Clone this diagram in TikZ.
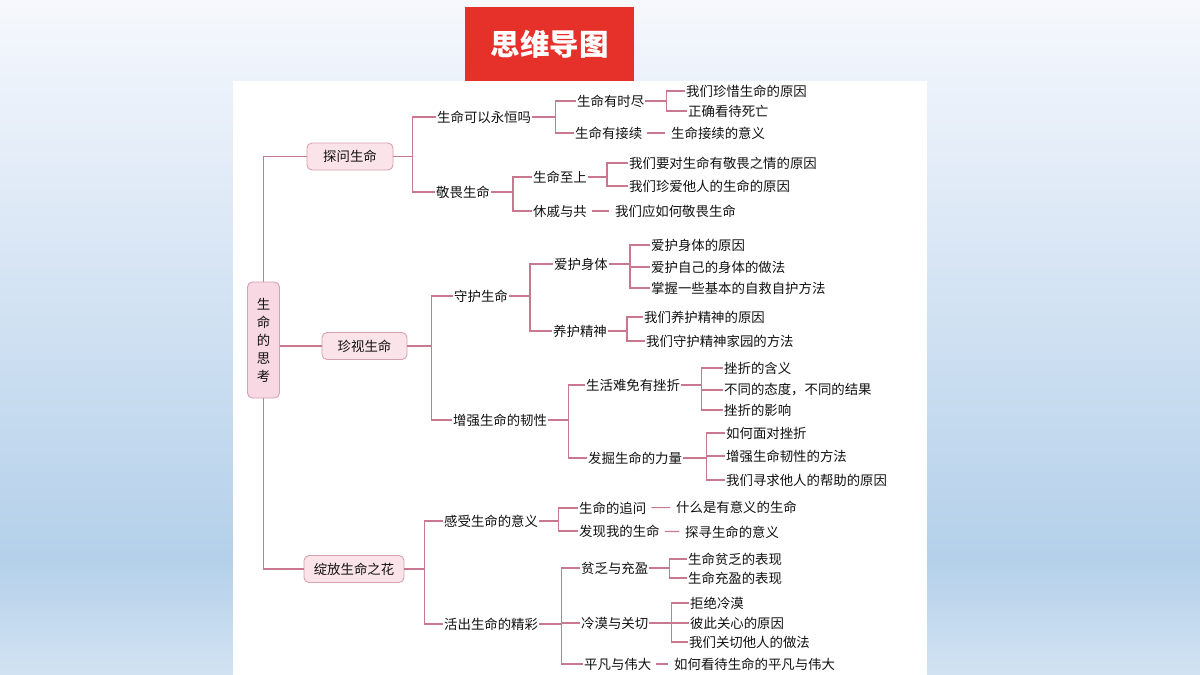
\documentclass[tikz,border=0pt]{standalone}
\usepackage{fontspec}
\newfontfamily\cjk{Noto Sans CJK SC}
\usetikzlibrary{positioning}

\definecolor{linkpink}{HTML}{C9798F}
\definecolor{boxfill}{HTML}{FBE3EA}
\definecolor{boxline}{HTML}{D7A1B1}
\definecolor{rootfill}{HTML}{F8D8E2}
\definecolor{titlered}{HTML}{E6302A}
\definecolor{bgtop}{HTML}{F6F8FD}
\definecolor{bgmid}{HTML}{B4D0EA}
\definecolor{bgbot}{HTML}{D2E3F2}
\definecolor{inktext}{HTML}{111111}

\begin{document}
\begin{tikzpicture}[
    x=1pt, y=-1pt,
    font=\cjk\fontsize{13.4}{16}\selectfont,
    topic/.style={
        draw=boxline,
        fill=boxfill,
        rounded corners=5pt,
        line width=0.9pt,
        minimum height=27pt,
        inner sep=0pt,
        text=inktext
    },
    item/.style={anchor=west, inner sep=1pt, text=inktext},
    link/.style={draw=linkpink, line width=1.1pt},
    gaplink/.style={link, shorten <=4pt, shorten >=5pt}
]

\useasboundingbox (0,0) rectangle (1200,675);
\shade[top color=bgtop, bottom color=bgmid] (0,0) rectangle (1200,560);
\shade[top color=bgmid, bottom color=bgbot] (0,559.5) rectangle (1200,675);
\fill[white] (233,81) rectangle (927,675);

\node[fill=titlered, minimum width=169pt, minimum height=74pt, text=white,
      font=\cjk\bfseries\fontsize{29.5}{32}\selectfont] (title) at (549.5,44) {思维导图};

\node[topic, fill=rootfill, minimum width=32pt, minimum height=116pt, align=center,
      font=\cjk\fontsize{13.4}{18}\selectfont] (root) at (263.5,340) {生\\命\\的\\思\\考};

\node[topic, minimum width=86pt] (tanwen) at (350,156.5) {探问生命};
\node[topic, minimum width=85pt] (zhenshi) at (364.5,346) {珍视生命};
\node[topic, minimum width=100pt] (zhanfang) at (354,569) {绽放生命之花};

\node[item] (yongheng) at (436,117) {生命可以永恒吗};
\node[item] (jingwei) at (435,192) {敬畏生命};
\node[item] (youshijin) at (576,101) {生命有时尽};
\node[item] (youjiexu) at (574,133) {生命有接续};
\node[item] (zhenxi) at (685,91) {我们珍惜生命的原因};
\node[item] (siwang) at (687,111) {正确看待死亡};
\node[item] (jiexuyiyi) at (670,133) {生命接续的意义};
\node[item] (zhishang) at (532,177) {生命至上};
\node[item] (xiuqi) at (532,211) {休戚与共};
\node[item] (jingweiyuanyin) at (628,163) {我们要对生命有敬畏之情的原因};
\node[item] (zhenai) at (628,186) {我们珍爱他人的生命的原因};
\node[item] (ruhejingwei) at (614,211) {我们应如何敬畏生命};

\node[item] (shouhu) at (453,296) {守护生命};
\node[item] (zengqiang) at (452,420) {增强生命的韧性};
\node[item] (aihu) at (553,264) {爱护身体};
\node[item] (yanghu) at (552,331) {养护精神};
\node[item] (aihuyuanyin) at (650,245) {爱护身体的原因};
\node[item] (aihuzuofa) at (650,267) {爱护自己的身体的做法};
\node[item] (zijiu) at (650,288) {掌握一些基本的自救自护方法};
\node[item] (yanghuyuanyin) at (643,317) {我们养护精神的原因};
\node[item] (jiayuan) at (645,341) {我们守护精神家园的方法};
\node[item] (cuozhe) at (585,385) {生活难免有挫折};
\node[item] (liliang) at (587,458) {发掘生命的力量};
\node[item] (hanyi) at (723,368) {挫折的含义};
\node[item] (taidu) at (723,390) {不同的态度，不同的结果};
\node[item] (yingxiang) at (723,410) {挫折的影响};
\node[item] (miandui) at (725,433) {如何面对挫折};
\node[item] (renxing) at (725,456) {增强生命韧性的方法};
\node[item] (bangzhu) at (725,480) {我们寻求他人的帮助的原因};

\node[item] (ganshou) at (443,521) {感受生命的意义};
\node[item] (huochu) at (443,624) {活出生命的精彩};
\node[item] (zhuiwen) at (578,508) {生命的追问};
\node[item] (faxian) at (578,531) {发现我的生命};
\node[item] (youyiyi) at (675,507) {什么是有意义的生命};
\node[item] (tanxun) at (684,532) {探寻生命的意义};
\node[item] (pinfa) at (580,568) {贫乏与充盈};
\node[item] (lengmo) at (580,623) {冷漠与关切};
\node[item] (pingfan) at (583,664) {平凡与伟大};
\node[item] (pinfabiaoxian) at (687,559) {生命贫乏的表现};
\node[item] (chongying) at (687,578) {生命充盈的表现};
\node[item] (jujue) at (689,603) {拒绝冷漠};
\node[item] (guanxin) at (689,623) {彼此关心的原因};
\node[item] (guanqie) at (688,642) {我们关切他人的做法};
\node[item] (weida) at (673,664) {如何看待生命的平凡与伟大};

\draw[link] (root.north) |- (tanwen.west);
\draw[link] (root.south) |- (zhanfang.west);
\draw[link] (root.east |- zhenshi.west) -- (zhenshi.west);

\draw[link] (tanwen.east) -- ++(19,0) |- (yongheng.west);
\draw[link] (tanwen.east) -- ++(19,0) |- (jingwei.west);
\draw[link] (yongheng.east) -- ++(23,0) |- (youshijin.west);
\draw[link] (yongheng.east) -- ++(23,0) |- (youjiexu.west);
\draw[link] (youshijin.east) -- ++(21,0) |- (zhenxi.west);
\draw[link] (youshijin.east) -- ++(21,0) |- (siwang.west);
\draw[gaplink] (youjiexu) -- (jiexuyiyi);
\draw[link] (jingwei.east) -- ++(22,0) |- (zhishang.west);
\draw[link] (jingwei.east) -- ++(22,0) |- (xiuqi.west);
\draw[link] (zhishang.east) -- ++(19,0) |- (jingweiyuanyin.west);
\draw[link] (zhishang.east) -- ++(19,0) |- (zhenai.west);
\draw[gaplink] (xiuqi) -- (ruhejingwei);

\draw[link] (zhenshi.east) -- ++(24,0) |- (shouhu.west);
\draw[link] (zhenshi.east) -- ++(24,0) |- (zengqiang.west);
\draw[link] (shouhu.east) -- ++(21,0) |- (aihu.west);
\draw[link] (shouhu.east) -- ++(21,0) |- (yanghu.west);
\draw[link] (aihu.east) -- ++(21,0) |- (aihuyuanyin.west);
\draw[link] (aihu.east) -- ++(21,0) |- (aihuzuofa.west);
\draw[link] (aihu.east) -- ++(21,0) |- (zijiu.west);
\draw[link] (yanghu.east) -- ++(19,0) |- (yanghuyuanyin.west);
\draw[link] (yanghu.east) -- ++(19,0) |- (jiayuan.west);
\draw[link] (zengqiang.east) -- ++(20,0) |- (cuozhe.west);
\draw[link] (zengqiang.east) -- ++(20,0) |- (liliang.west);
\draw[link] (cuozhe.east) -- ++(20,0) |- (hanyi.west);
\draw[link] (cuozhe.east) -- ++(20,0) |- (taidu.west);
\draw[link] (cuozhe.east) -- ++(20,0) |- (yingxiang.west);
\draw[link] (liliang.east) -- ++(23,0) |- (miandui.west);
\draw[link] (liliang.east) -- ++(23,0) |- (renxing.west);
\draw[link] (liliang.east) -- ++(23,0) |- (bangzhu.west);

\draw[link] (zhanfang.east) -- ++(20,0) |- (ganshou.west);
\draw[link] (zhanfang.east) -- ++(20,0) |- (huochu.west);
\draw[link] (ganshou.east) -- ++(19,0) |- (zhuiwen.west);
\draw[link] (ganshou.east) -- ++(19,0) |- (faxian.west);
\draw[gaplink] (zhuiwen) -- (youyiyi);
\draw[gaplink] (faxian) -- (tanxun);
\draw[link] (huochu.east) -- ++(22,0) |- (pinfa.west);
\draw[link] (huochu.east) -- ++(22,0) |- (lengmo.west);
\draw[link] (huochu.east) -- ++(22,0) |- (pingfan.west);
\draw[link] (pinfa.east) -- ++(20,0) |- (pinfabiaoxian.west);
\draw[link] (pinfa.east) -- ++(20,0) |- (chongying.west);
\draw[link] (lengmo.east) -- ++(22,0) |- (jujue.west);
\draw[link] (lengmo.east) -- ++(22,0) |- (guanxin.west);
\draw[link] (lengmo.east) -- ++(22,0) |- (guanqie.west);
\draw[gaplink] (pingfan) -- (weida);

\end{tikzpicture}
\end{document}
